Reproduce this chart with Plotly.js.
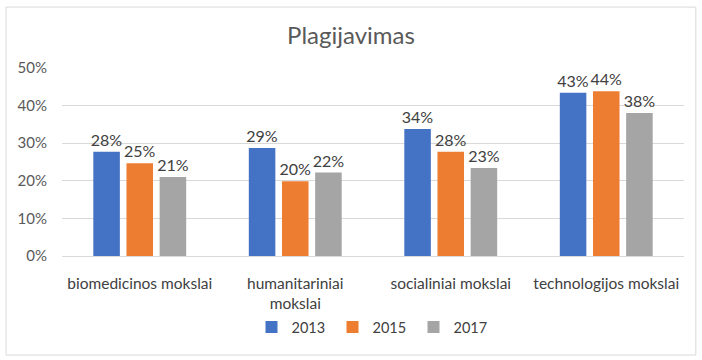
<!DOCTYPE html>
<html><head><meta charset="utf-8">
<script src="https://cdn.plot.ly/plotly-3.0.1.min.js"></script>
<style>body{margin:0;background:#fff}#c{width:702px;height:360px}</style>
</head><body><div id="c"></div>
<script>
const categories = ["biomedicinos mokslai", "humanitariniai<br>mokslai", "socialiniai mokslai", "technologijos mokslai"];
const series = ["2013", "2015", "2017"];
const v2013 = [0.277, 0.287, 0.338, 0.434];
const v2015 = [0.247, 0.199, 0.277, 0.438];
const v2017 = [0.210, 0.222, 0.234, 0.380];
const colors = ["#4472C4", "#ED7D31", "#A5A5A5"];
const values = [v2013, v2015, v2017];
const FONT = "Lato, sans-serif";

const traces = series.map((s, i) => ({
  type: "bar", name: s, x: categories, y: values[i],
  marker: {color: colors[i]},
  texttemplate: "%{y:.0%}", textposition: "outside", constraintext: "none",
  textfont: {family: FONT, size: 16, color: "#404040"},
  cliponaxis: false, hoverinfo: "skip"
}));

const layout = {
  width: 702, height: 360,
  margin: {l: 62, r: 18, t: 68, b: 104},
  paper_bgcolor: "#fff", plot_bgcolor: "#fff",
  font: {family: FONT, color: "#595959", size: 14},
  title: {text: "Plagijavimas", font: {family: FONT, size: 24, color: "#595959"}, x: 0.5, xanchor: "center", y: 0.9, yanchor: "middle"},
  barmode: "group", bargap: 0.36, bargroupgap: 0.2,
  xaxis: {showgrid: false, showline: false, zeroline: false, ticks: "", ticklabelstandoff: 16,
          tickfont: {family: FONT, size: 15.5, color: "#404040"}},
  yaxis: {range: [0, 0.5], dtick: 0.1, tickformat: ".0%", showgrid: true, gridcolor: "#D9D9D9",
          zeroline: true, zerolinecolor: "#D9D9D9", showline: false, ticks: "", ticklabelstandoff: 14,
          tickfont: {family: FONT, size: 15, color: "#595959"}},
  showlegend: true,
  legend: {orientation: "h", x: 0.5, xanchor: "center", y: -0.378, yanchor: "middle",
           itemwidth: 30, entrywidth: 36, entrywidthmode: "pixels",
           font: {family: FONT, size: 14.5, color: "#404040"}, traceorder: "normal"},
  shapes: [{type: "rect", xref: "paper", yref: "paper", x0: -0.09, x1: 1.019, y0: -0.527, y1: 1.324,
            line: {color: "#D9D9D9", width: 1}, fillcolor: "rgba(0,0,0,0)"}]
};
Plotly.newPlot("c", traces, layout, {displayModeBar: false, staticPlot: true});
</script></body></html>
